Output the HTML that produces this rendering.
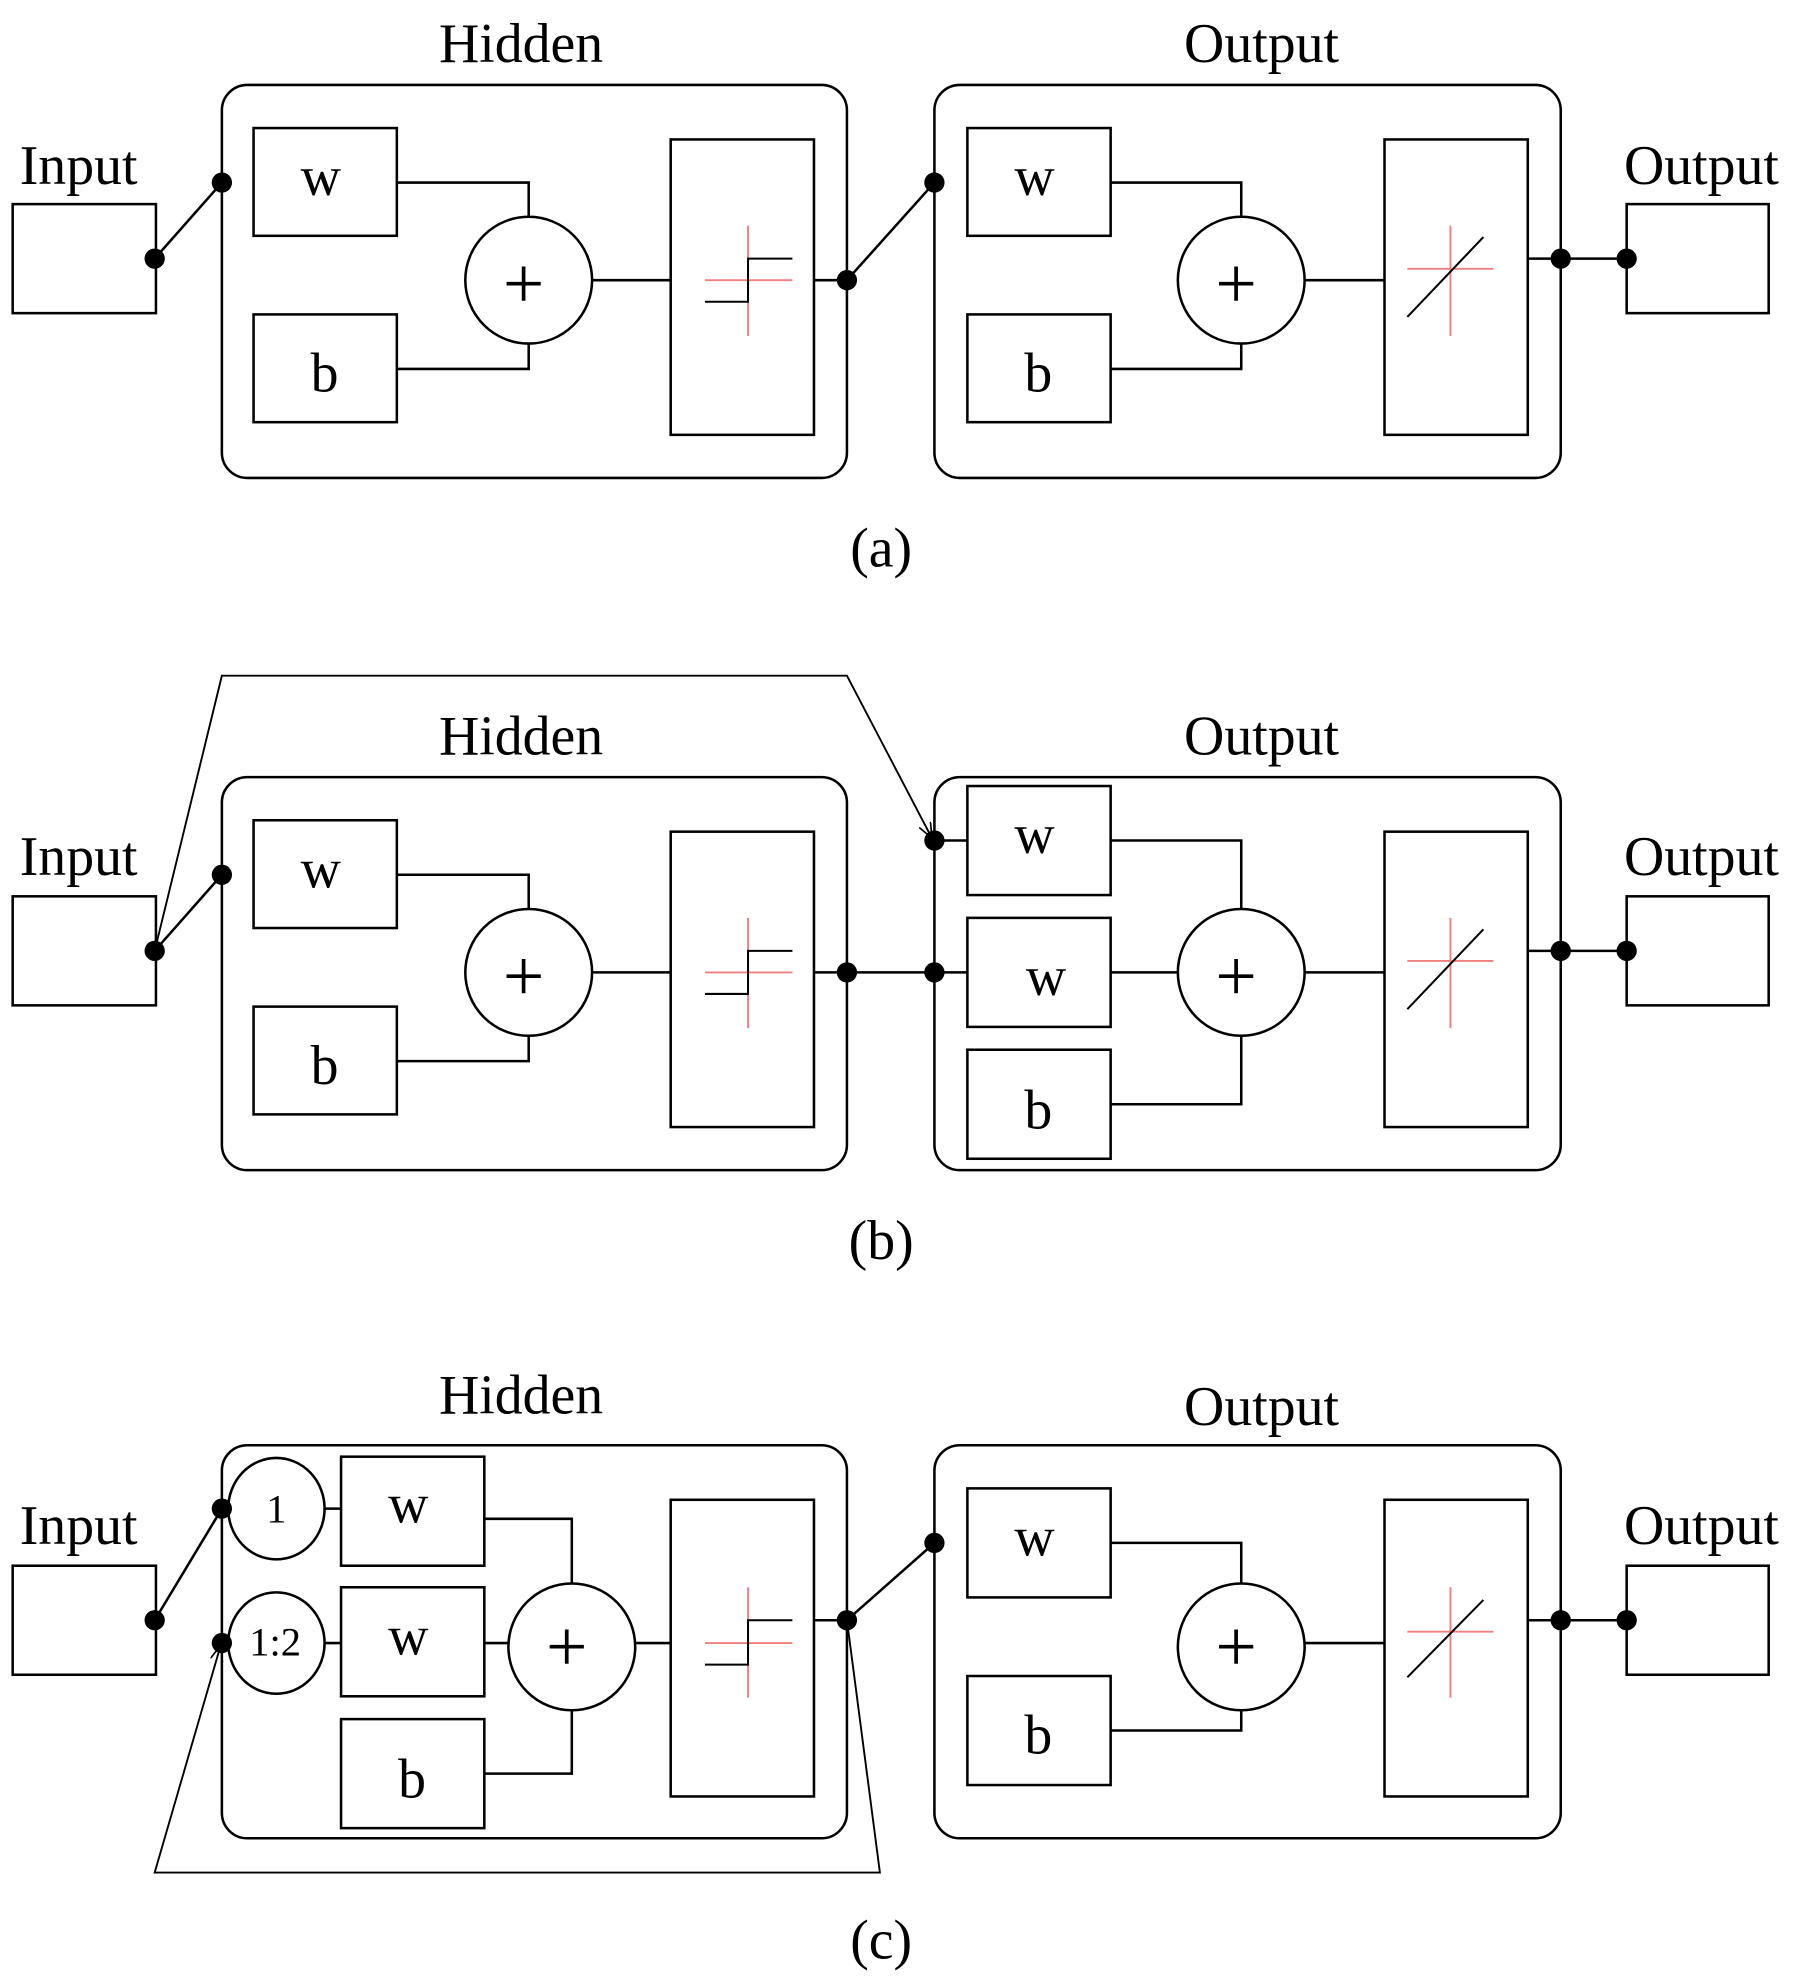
<!DOCTYPE html>
<html><head><meta charset="utf-8"><style>html,body{margin:0;padding:0;background:#fff}svg{display:block}</style></head>
<body>
<svg width="1810" height="1987" viewBox="0 0 1427.6 1567.3" preserveAspectRatio="none" xmlns="http://www.w3.org/2000/svg" font-family="Liberation Serif, serif">
<defs>
<marker id="ar" markerWidth="14" markerHeight="14" refX="12" refY="5" orient="auto" markerUnits="userSpaceOnUse"><path d="M0,0 L12,5 L0,10" fill="none" stroke="#000" stroke-width="1.3"/></marker>
</defs>
<g stroke="#000" stroke-width="2" fill="none">
<g>
<rect x="10" y="161" width="113" height="86"/>
<line x1="122" y1="204" x2="175" y2="144"/>
<rect x="175" y="67" width="493" height="310" rx="20"/>
<rect x="200" y="101" width="113" height="85"/>
<rect x="200" y="248" width="113" height="85"/>
<circle cx="417" cy="221" r="50"/>
<polyline points="313,144 417,144 417,171"/>
<polyline points="313,291 417,291 417,271"/>
<line x1="467" y1="221" x2="529" y2="221"/>
<rect x="529" y="110" width="113" height="233"/>
<line x1="590" y1="178" x2="590" y2="265" stroke="#f08080" stroke-width="1.5"/>
<line x1="556" y1="221" x2="625" y2="221" stroke="#f08080" stroke-width="1.5"/>
<polyline points="556,238 590,238 590,204 625,204" stroke-width="1.6"/>
<line x1="642" y1="221" x2="668" y2="221"/>
<line x1="668" y1="221" x2="737" y2="144"/>
<rect x="737" y="67" width="494" height="310" rx="20"/>
<rect x="763" y="101" width="113" height="85"/>
<rect x="763" y="248" width="113" height="85"/>
<circle cx="979" cy="221" r="50"/>
<polyline points="876,144 979,144 979,171"/>
<polyline points="876,291 979,291 979,271"/>
<line x1="1029" y1="221" x2="1092" y2="221"/>
<rect x="1092" y="110" width="113" height="233"/>
<line x1="1144" y1="178" x2="1144" y2="265" stroke="#f08080" stroke-width="1.5"/>
<line x1="1110" y1="212" x2="1178" y2="212" stroke="#f08080" stroke-width="1.5"/>
<line x1="1110" y1="250" x2="1170" y2="187" stroke-width="1.6"/>
<line x1="1205" y1="204" x2="1283" y2="204"/>
<rect x="1283" y="161" width="112" height="86"/>
</g>
<g transform="translate(0,546)">
<rect x="10" y="161" width="113" height="86"/>
<line x1="122" y1="204" x2="175" y2="144"/>
<rect x="175" y="67" width="493" height="310" rx="20"/>
<rect x="200" y="101" width="113" height="85"/>
<rect x="200" y="248" width="113" height="85"/>
<circle cx="417" cy="221" r="50"/>
<polyline points="313,144 417,144 417,171"/>
<polyline points="313,291 417,291 417,271"/>
<line x1="467" y1="221" x2="529" y2="221"/>
<rect x="529" y="110" width="113" height="233"/>
<line x1="590" y1="178" x2="590" y2="265" stroke="#f08080" stroke-width="1.5"/>
<line x1="556" y1="221" x2="625" y2="221" stroke="#f08080" stroke-width="1.5"/>
<polyline points="556,238 590,238 590,204 625,204" stroke-width="1.6"/>
<line x1="642" y1="221" x2="763" y2="221"/>
<rect x="737" y="67" width="494" height="310" rx="20"/>
<rect x="763" y="74" width="113" height="86"/>
<rect x="763" y="178" width="113" height="86"/>
<rect x="763" y="282" width="113" height="86"/>
<circle cx="979" cy="221" r="50"/>
<polyline points="876,117 979,117 979,171"/>
<line x1="876" y1="221" x2="929" y2="221"/>
<polyline points="876,325 979,325 979,271"/>
<line x1="1029" y1="221" x2="1092" y2="221"/>
<rect x="1092" y="110" width="113" height="233"/>
<line x1="1144" y1="178" x2="1144" y2="265" stroke="#f08080" stroke-width="1.5"/>
<line x1="1110" y1="212" x2="1178" y2="212" stroke="#f08080" stroke-width="1.5"/>
<line x1="1110" y1="250" x2="1170" y2="187" stroke-width="1.6"/>
<line x1="1205" y1="204" x2="1283" y2="204"/>
<rect x="1283" y="161" width="112" height="86"/>
<polyline points="122,204 175,-13 668,-13 735,115" stroke-width="1.5" marker-end="url(#ar)"/>
<line x1="737" y1="117" x2="763" y2="117"/>
</g>
<g>
<rect x="10" y="1235" width="113" height="86"/>
<line x1="122" y1="1278" x2="175" y2="1190"/>
<rect x="175" y="1140" width="493" height="310" rx="20"/>
<ellipse cx="218" cy="1190" rx="38" ry="40"/>
<ellipse cx="218" cy="1296" rx="38" ry="40"/>
<line x1="256" y1="1190" x2="269" y2="1190"/>
<line x1="256" y1="1296" x2="269" y2="1296"/>
<rect x="269" y="1149" width="113" height="86"/>
<rect x="269" y="1252" width="113" height="86"/>
<rect x="269" y="1356" width="113" height="86"/>
<circle cx="451" cy="1299" r="50"/>
<polyline points="382,1198 451,1198 451,1249"/>
<line x1="382" y1="1296" x2="401" y2="1296"/>
<polyline points="382,1399 451,1399 451,1349"/>
<line x1="501" y1="1296" x2="529" y2="1296"/>
<rect x="529" y="1183" width="113" height="234"/>
<line x1="590" y1="1252" x2="590" y2="1339" stroke="#f08080" stroke-width="1.5"/>
<line x1="556" y1="1296" x2="625" y2="1296" stroke="#f08080" stroke-width="1.5"/>
<polyline points="556,1313 590,1313 590,1278 625,1278" stroke-width="1.6"/>
<line x1="642" y1="1278" x2="668" y2="1278"/>
<line x1="668" y1="1278" x2="737" y2="1217"/>
<polyline points="668,1278 694,1477 122,1477 174,1298" stroke-width="1.5" marker-end="url(#ar)"/>
<rect x="737" y="1140" width="494" height="310" rx="20"/>
<rect x="763" y="1174" width="113" height="86"/>
<rect x="763" y="1322" width="113" height="86"/>
<circle cx="979" cy="1299" r="50"/>
<polyline points="876,1217 979,1217 979,1249"/>
<polyline points="876,1365 979,1365 979,1349"/>
<line x1="1029" y1="1296" x2="1092" y2="1296"/>
<rect x="1092" y="1183" width="113" height="234"/>
<line x1="1144" y1="1252" x2="1144" y2="1339" stroke="#f08080" stroke-width="1.5"/>
<line x1="1110" y1="1287" x2="1178" y2="1287" stroke="#f08080" stroke-width="1.5"/>
<line x1="1110" y1="1323" x2="1170" y2="1262" stroke-width="1.6"/>
<line x1="1205" y1="1278" x2="1283" y2="1278"/>
<rect x="1283" y="1235" width="112" height="86"/>
</g>
</g>
<g fill="#000">
<circle cx="122" cy="204" r="8"/><circle cx="175" cy="144" r="8"/><circle cx="668" cy="221" r="8"/><circle cx="737" cy="144" r="8"/><circle cx="1231" cy="204" r="8"/><circle cx="1283" cy="204" r="8"/>
<circle cx="122" cy="750" r="8"/><circle cx="175" cy="690" r="8"/><circle cx="668" cy="767" r="8"/><circle cx="737" cy="767" r="8"/><circle cx="737" cy="663" r="8"/><circle cx="1231" cy="750" r="8"/><circle cx="1283" cy="750" r="8"/>
<circle cx="122" cy="1278" r="8"/><circle cx="175" cy="1190" r="8"/><circle cx="175" cy="1296" r="8"/><circle cx="668" cy="1278" r="8"/><circle cx="737" cy="1217" r="8"/><circle cx="1231" cy="1278" r="8"/><circle cx="1283" cy="1278" r="8"/>
</g>
<g fill="#000" font-size="44" text-anchor="middle">
<text x="411" y="49">Hidden</text><text x="995" y="49">Output</text>
<text x="62" y="145">Input</text><text x="1342" y="145">Output</text>
<text x="253" y="154">w</text><text x="256" y="309">b</text><text x="816" y="154">w</text><text x="819" y="309">b</text>
<text x="413" y="243" font-size="58">+</text><text x="975" y="243" font-size="58">+</text>
<text x="695" y="447">(a)</text>
<text x="411" y="595">Hidden</text><text x="995" y="595">Output</text>
<text x="62" y="690">Input</text><text x="1342" y="690">Output</text>
<text x="253" y="700">w</text><text x="256" y="855">b</text>
<text x="816" y="673">w</text><text x="825" y="785">w</text><text x="819" y="890">b</text>
<text x="413" y="789" font-size="58">+</text><text x="975" y="789" font-size="58">+</text>
<text x="695" y="993">(b)</text>
<text x="411" y="1115">Hidden</text><text x="995" y="1124">Output</text>
<text x="62" y="1218">Input</text><text x="1342" y="1218">Output</text>
<text x="218" y="1201" font-size="32">1</text><text x="217" y="1306" font-size="32">1:2</text>
<text x="322" y="1201">w</text><text x="322" y="1305">w</text><text x="325" y="1418">b</text>
<text x="447" y="1318" font-size="58">+</text>
<text x="816" y="1227">w</text><text x="819" y="1383">b</text><text x="975" y="1318" font-size="58">+</text>
<text x="695" y="1545">(c)</text>
</g>
</svg>
</body></html>
